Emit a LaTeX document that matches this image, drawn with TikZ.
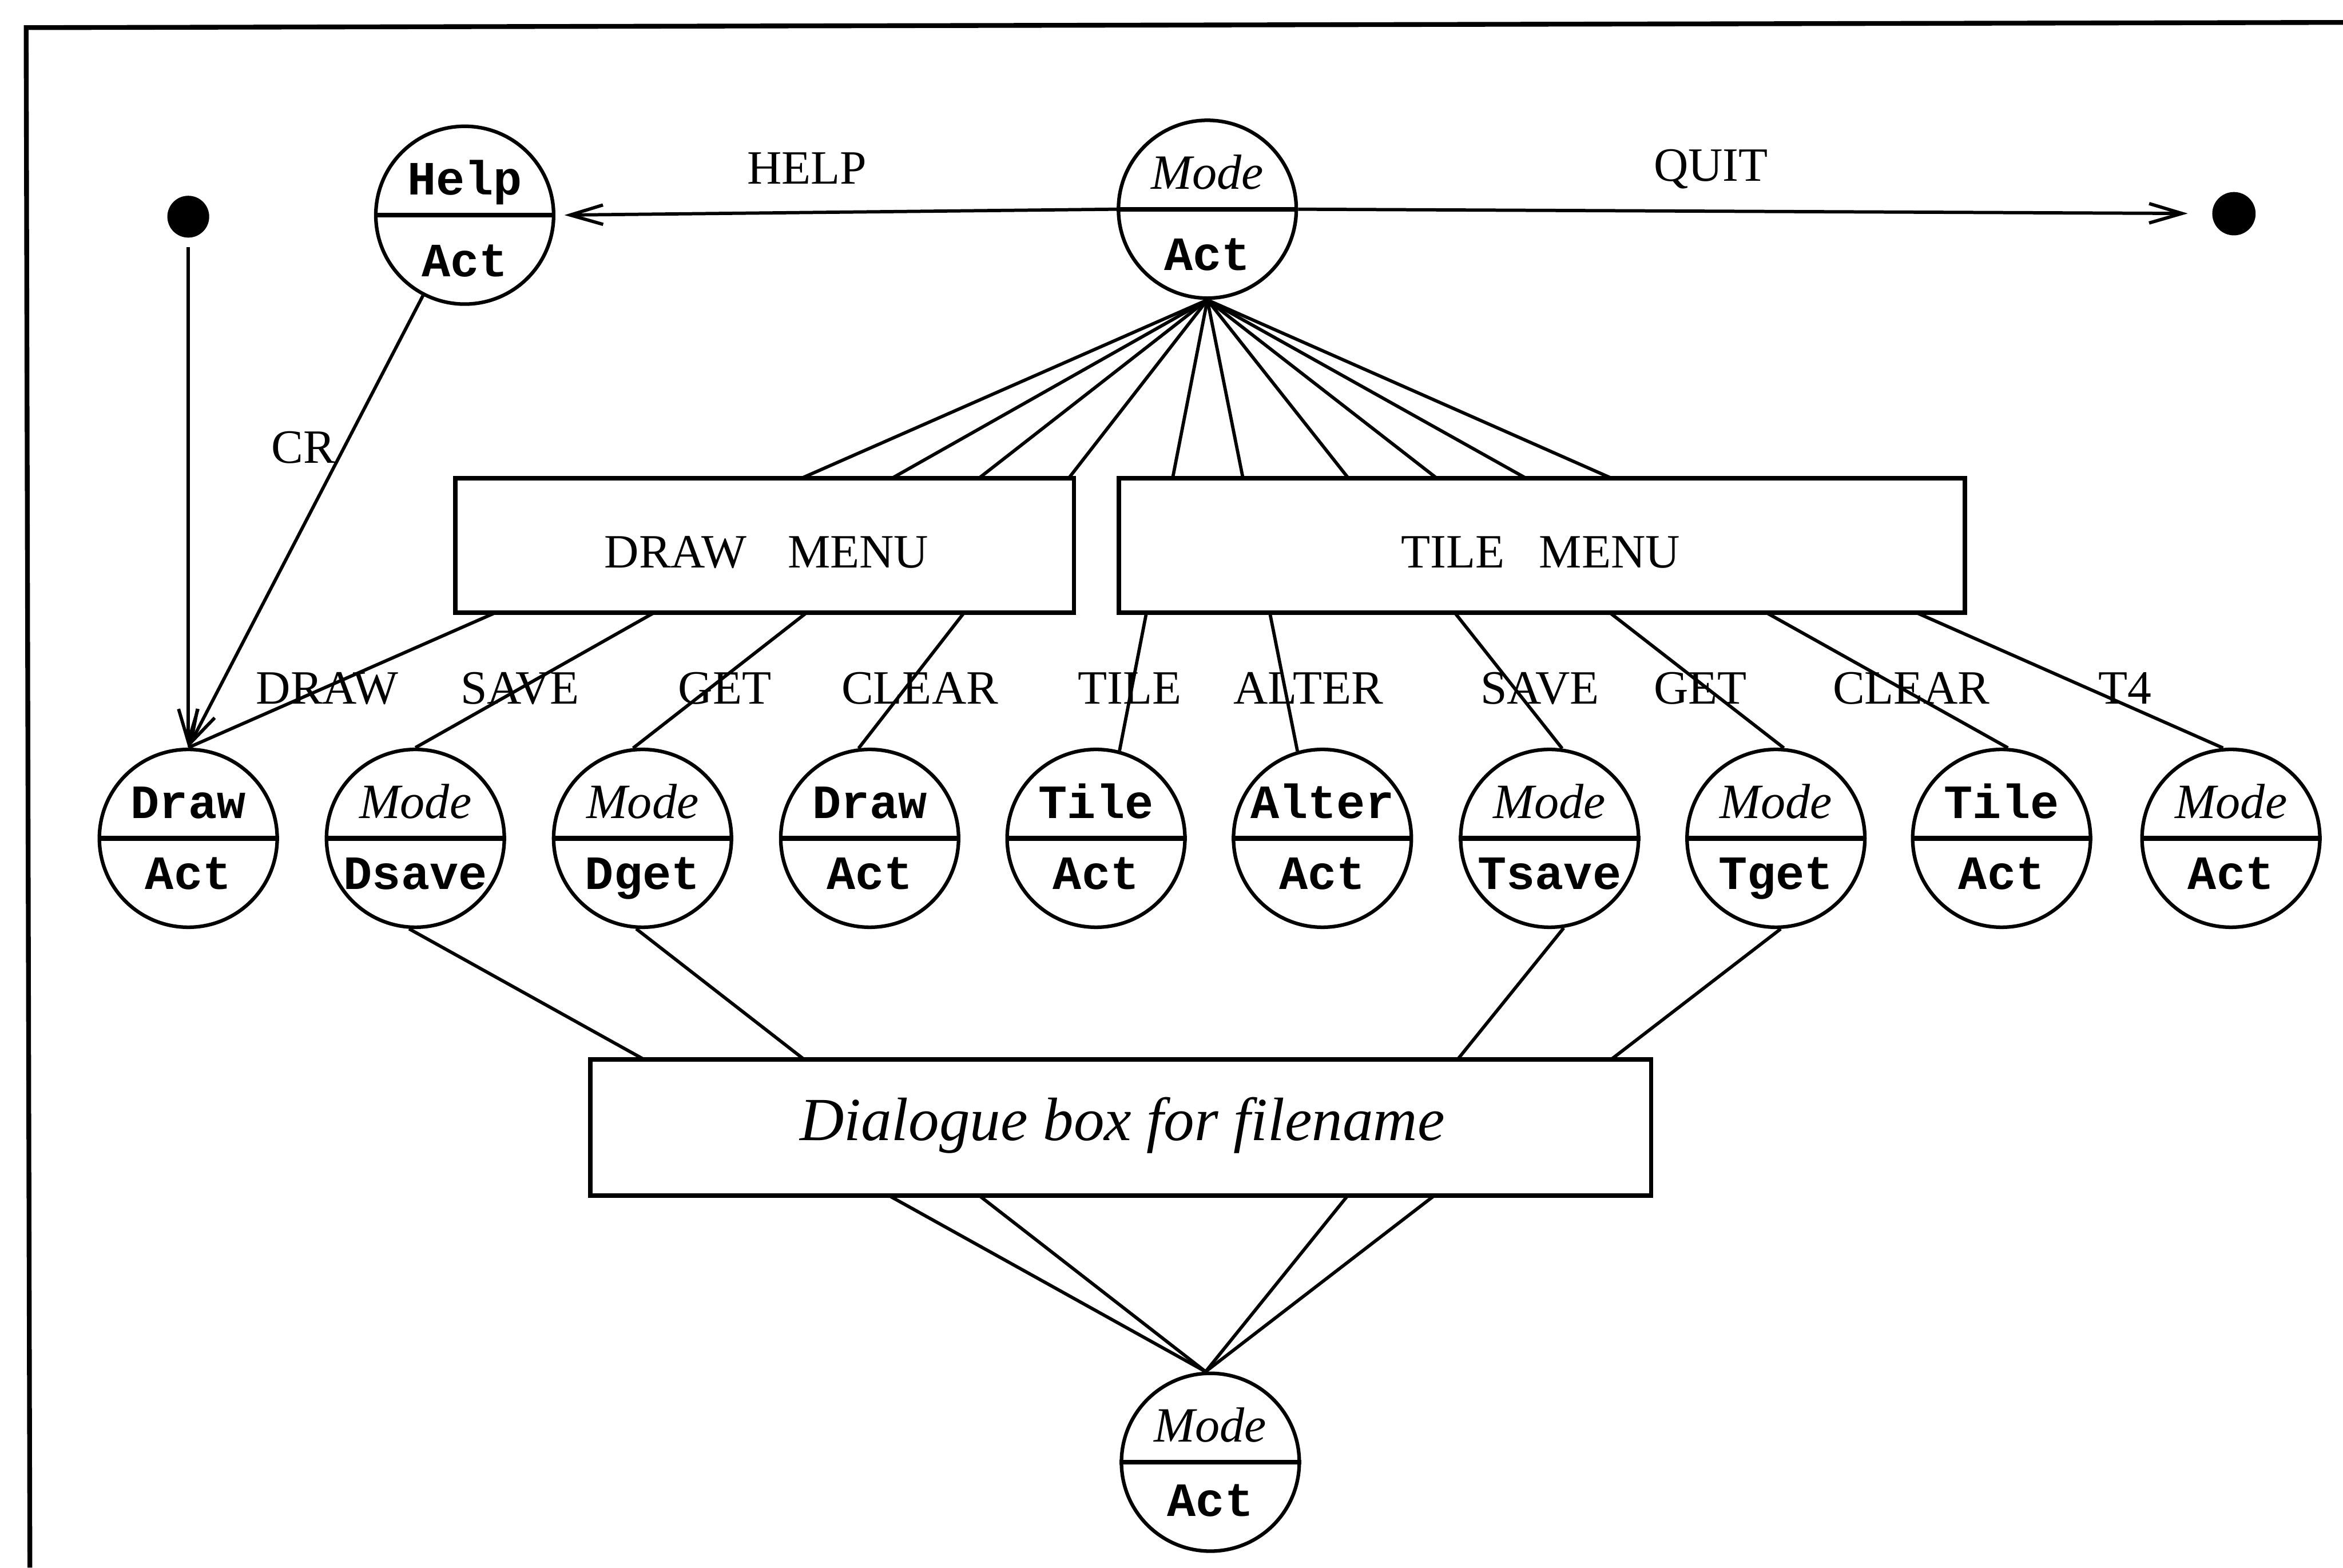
\documentclass[tikz,border=0pt]{standalone}
\usepackage{fontspec}
\setmainfont{Liberation Serif}
\setmonofont{Liberation Mono}
\usetikzlibrary{arrows.meta}

% state circle split by a bar: [bottom baseline drop]{name}{position}{top style}{top text}{bottom text}
\newcommand\statenode[6][17pt]{%
  \node[statecirc] (#2) at (#3) {};
  \draw[divider] (#2.west) -- (#2.east);
  \node[#4] (#2-top) at ([yshift=6.75pt]#2.center) {#5};
  \node[monotop] (#2-bot) at ([yshift=-#1]#2.center) {#6};
}

\tikzset{
  statecirc/.style={circle, draw, line width=1.2pt, minimum size=59.5pt, inner sep=0pt},
  divider/.style={line width=1.6pt},
  itop/.style={anchor=base, inner sep=0pt, font=\fontsize{16.5}{18}\selectfont\itshape},
  monotop/.style={anchor=base, inner sep=0pt, font=\fontsize{16}{18}\selectfont\ttfamily\bfseries},
  lbl/.style={anchor=base, inner sep=0pt, font=\fontsize{16}{18}\selectfont},
  dlgtext/.style={anchor=base, inner sep=0pt, font=\fontsize{20.5}{24}\selectfont\itshape},
  menubox/.style={rectangle, draw, fill=white, line width=1.5pt, minimum height=45pt, inner sep=0pt},
  dot/.style={circle, fill=black, minimum size=14pt, inner sep=0pt},
  conn/.style={line width=1.1pt},
  arr/.style={-{Straight Barb[length=11pt,width=6.5pt]}},
  frameline/.style={line width=1.6pt}
}

\begin{document}
\begin{tikzpicture}[x=0.5pt, y=-0.5pt]
\useasboundingbox (0,0) rectangle (1568,1049);

% frame (top and left edges)
\coordinate (frame-tr) at (1568,15);
\coordinate (frame-tl) at (17.5,18.5);
\coordinate (frame-bl) at (20,1049);
\draw[frameline] (frame-tr) -- (frame-tl) -- (frame-bl);

% top row
\node[dot] (start) at (126,145) {};
\statenode[20.5pt]{help}{311,144}{monotop}{Help}{Act}
\statenode[20.5pt]{mode}{808,140}{itop}{Mode}{Act}
\node[dot, minimum size=14.5pt] (stop) at (1495,143) {};

% second row of states
\statenode{draw1}{126,561}{monotop}{Draw}{Act}
\statenode{dsave}{278,561}{itop}{Mode}{Dsave}
\statenode{dget}{430,561}{itop}{Mode}{Dget}
\statenode{draw2}{582,561}{monotop}{Draw}{Act}
\statenode{tile1}{733.5,561}{monotop}{Tile}{Act}
\statenode{alter}{885,561}{monotop}{Alter}{Act}
\statenode{tsave}{1037,561}{itop}{Mode}{Tsave}
\statenode{tget}{1188.5,561}{itop}{Mode}{Tget}
\statenode{tile2}{1339.5,561}{monotop}{Tile}{Act}
\statenode{tfour}{1493,561}{itop}{Mode}{Act}

% final state
\statenode[18pt]{final}{810,978.5}{itop}{Mode}{Act}

% fan of menu transitions (the menu boxes are laid over them)
\foreach \nm/\ang in {draw1/90, dsave/90, dget/96, draw2/97, tile1/75,
                      alter/106, tsave/82, tget/85, tile2/86, tfour/95}
  \draw[conn] (mode.south) -- (\nm.\ang);

% file dialogue transitions (the dialogue box is laid over them)
\draw[conn] (dsave.266) -- (final.93);
\draw[conn] (dget.266) -- (final.93);
\draw[conn] (tsave.279) -- (final.93);
\draw[conn] (tget.273) -- (final.93);

% menus and dialogue box
\node[menubox, minimum width=207pt] (drawmenu) at (511.7,365) {};
\node[lbl] (drawmenu-label) at (513,380) {DRAW\hspace{0.86em}MENU};
\node[menubox, minimum width=283pt] (tilemenu) at (1031.9,365) {};
\node[lbl] (tilemenu-label) at (1031,380) {TILE\hspace{0.72em}MENU};
\node[menubox, minimum width=355pt, minimum height=45.5pt] (dialog) at (750,754.5) {};
\node[dlgtext] (dialog-label) at (751,763) {Dialogue box for filename};

% arrows of the top level
\draw[conn, arr, shorten >=3pt] (mode.west) -- (help.east);
\draw[conn, arr, shorten >=8pt] (mode.east) -- (stop);
\draw[conn, arr, shorten <=3pt] (start) -- (draw1.north);
\draw[conn, arr] (help) -- (draw1.north);

% event labels
\node[lbl] (lbl-help) at (540,123) {HELP};
\node[lbl] (lbl-quit) at (1145,121) {QUIT};
\node[lbl] (lbl-cr) at (203,310) {CR};
\node[lbl] (lbl-draw) at (219,471) {DRAW};
\node[lbl] (lbl-dsave) at (348,471) {SAVE};
\node[lbl] (lbl-dget) at (485,471) {GET};
\node[lbl] (lbl-dclear) at (615.6,471) {CLEAR};
\node[lbl] (lbl-tile) at (756,471) {TILE};
\node[lbl] (lbl-alter) at (875.5,471) {ALTER};
\node[lbl] (lbl-tsave) at (1030.5,471) {SAVE};
\node[lbl] (lbl-tget) at (1138,471) {GET};
\node[lbl] (lbl-tclear) at (1279,471) {CLEAR};
\node[lbl] (lbl-tfour) at (1422,471) {T4};
\end{tikzpicture}
\end{document}
